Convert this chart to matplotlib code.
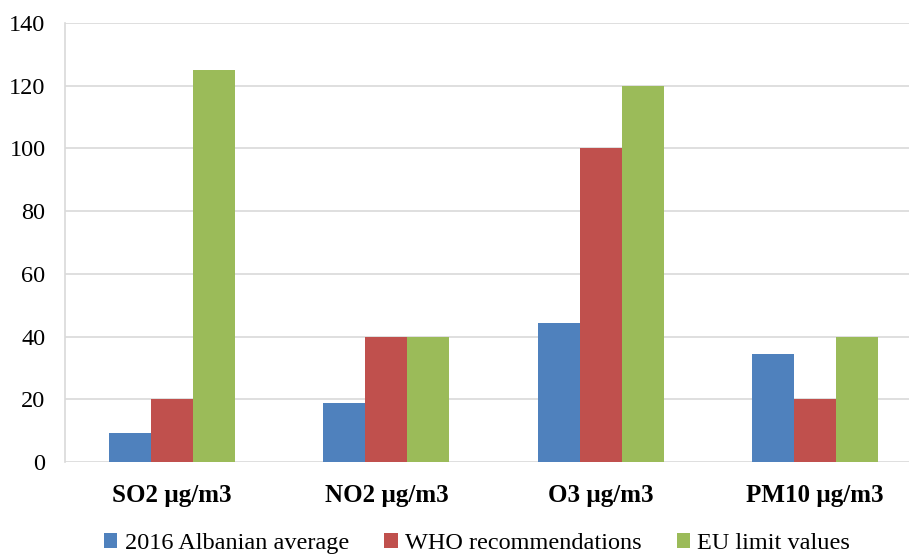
import numpy as np
import matplotlib.pyplot as plt

categories = ['SO2 µg/m3', 'NO2 µg/m3', 'O3 µg/m3', 'PM10 µg/m3']
albanian_avg = [9.3, 18.9, 44.4, 34.3]
who_rec = [20, 40, 100, 20]
eu_limits = [125, 40, 120, 40]
series = ['2016 Albanian average', 'WHO recommendations', 'EU limit values']
colors = ['#4F81BD', '#C0504D', '#9BBB59']

plt.rcParams['font.family'] = ['Liberation Serif', 'DejaVu Serif']

fig = plt.figure(figsize=(9.09, 5.54), dpi=100)
ax = fig.add_axes([65 / 909, (554 - 462) / 554, 857 / 909, (462 - 23) / 554])

x = np.arange(len(categories))
w = 0.196
for i, (vals, name, c) in enumerate(zip([albanian_avg, who_rec, eu_limits], series, colors)):
    ax.bar(x + (i - 1) * w, vals, width=w, color=c, label=name, zorder=3)

ax.set_xlim(-0.5, 3.5)
ax.set_ylim(0, 140)
ax.set_yticks(range(0, 141, 20))
ax.yaxis.grid(True, color='#d9d9d9', linewidth=1.2, zorder=0)
ax.set_axisbelow(True)
for s in ['top', 'right', 'bottom']:
    ax.spines[s].set_visible(False)
ax.spines['left'].set_color('#d9d9d9')
ax.spines['left'].set_linewidth(1.2)
ax.tick_params(axis='both', length=0)
ax.tick_params(axis='y', pad=14, labelsize=17.5)
ax.tick_params(axis='x', pad=16, labelsize=18)
ax.set_xticks(x)
ax.set_xticklabels(categories, fontweight='bold')

fig.legend(loc='lower center', bbox_to_anchor=(0.525, -0.04), ncol=3, frameon=False,
           fontsize=17.5, handlelength=0.55, handleheight=0.55, handletextpad=0.3,
           columnspacing=1.45)

fig.savefig('out.png', dpi=100)
